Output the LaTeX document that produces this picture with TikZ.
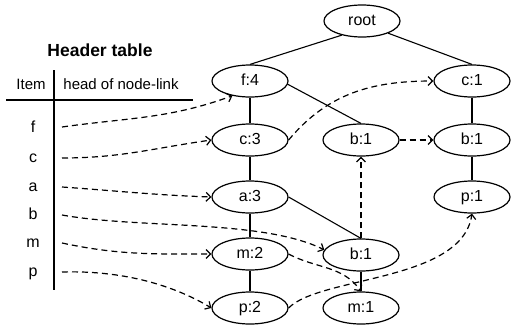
\documentclass[tikz,border=0pt]{standalone}
\usepackage{fontspec}
\setmainfont{Liberation Sans}
\usetikzlibrary{arrows.meta,shapes.geometric}
\begin{document}
\begin{tikzpicture}[x=1pt,y=-1pt,
  tnode/.style={ellipse, draw, line width=1.2pt, minimum width=76pt, minimum height=32pt, inner sep=0pt,
    font=\fontsize{16}{19}\selectfont, text height=11pt, text depth=2pt},
  tree/.style={line width=1.1pt},
  link/.style={line width=1.2pt, dash pattern=on 6pt off 4pt, -{Straight Barb[length=4.5pt,width=9pt]}},
  item/.style={font=\fontsize{16}{19}\selectfont, inner sep=0pt, text height=11pt, text depth=2pt},
  head/.style={font=\fontsize{15}{18}\selectfont, inner sep=0pt}]
\useasboundingbox (0,0) rectangle (511,325);

% header table
\node[font=\fontsize{17.5}{20}\selectfont\bfseries, inner sep=0pt] (title) at (100,50) {Header table};
\node[head] (itemh) at (31,84) {Item};
\node[head] (linkh) at (121,84) {head of node-link};
\draw[line width=1.4pt] (6,100) -- (193,100);
\draw[line width=1.4pt] (54,70) -- (54,290);

\node[item] (if) at (33,128) {f};
\node[item] (ic) at (33,158) {c};
\node[item] (ia) at (33,187) {a};
\node[item] (ib) at (33,215) {b};
\node[item] (im) at (33,243) {m};
\node[item] (ip) at (33,272) {p};

\coordinate (sf) at (62,127);
\coordinate (sc) at (62,158);
\coordinate (sa) at (62,187);
\coordinate (sb) at (62,215);
\coordinate (sm) at (62,243);
\coordinate (sp) at (62,272);

% tree nodes
\node[tnode] (root) at (362,21) {root};
\node[tnode] (f4) at (250,81) {f:4};
\node[tnode] (c1) at (472,81) {c:1};
\node[tnode] (c3) at (250,140) {c:3};
\node[tnode] (b1m) at (361,140) {b:1};
\node[tnode] (b1r) at (472,140) {b:1};
\node[tnode] (a3) at (250,197) {a:3};
\node[tnode] (p1) at (472,197) {p:1};
\node[tnode] (m2) at (250,254) {m:2};
\node[tnode] (b1l) at (361,255) {b:1};
\node[tnode] (p2) at (250,308) {p:2};
\node[tnode] (m1) at (361,308) {m:1};

% tree edges
\draw[tree] (root.215) -- (f4.north);
\draw[tree] (root.-25) -- (c1.north);
\draw[tree] (f4.south) -- (c3.north);
\draw[tree] (f4.-5) -- (b1m.north);
\draw[tree] (c1.south) -- (b1r.north);
\draw[tree] (b1r.south) -- (p1.north);
\draw[tree] (c3.south) -- (a3.north);
\draw[tree] (a3.south) -- (m2.north);
\draw[tree] (m2.south) -- (p2.north);
\draw[tree] (a3.east) -- (b1l.north);
\draw[tree] (b1l.south) -- (m1.north);

% node links from header table
\draw[link] (sf) to[out=8,in=200] (f4.220);
\draw[link] (sc) to[out=0,in=188] (c3.west);
\draw[link] (sa) to[out=-4,in=178] (a3.west);
\draw[link] (sb) .. controls (140,229) and (262,219) .. (b1l.172);
\draw[link] (sm) to[out=-12,in=180] (m2.west);
\draw[link] (sp) .. controls (130,270) and (180,289) .. (p2.west);

% node links between tree nodes
\draw[link] (c3.east) to[out=50,in=180] (c1.west);
\draw[link] (b1m.east) -- (b1r.west);
\draw[link] (b1l.north) -- (b1m.south);
\draw[link] (m2.east) to[out=-28,in=125] (m1.north);
\draw[link] (p2.east) .. controls (320,276) and (462,282) .. (p1.south);
\end{tikzpicture}
\end{document}
